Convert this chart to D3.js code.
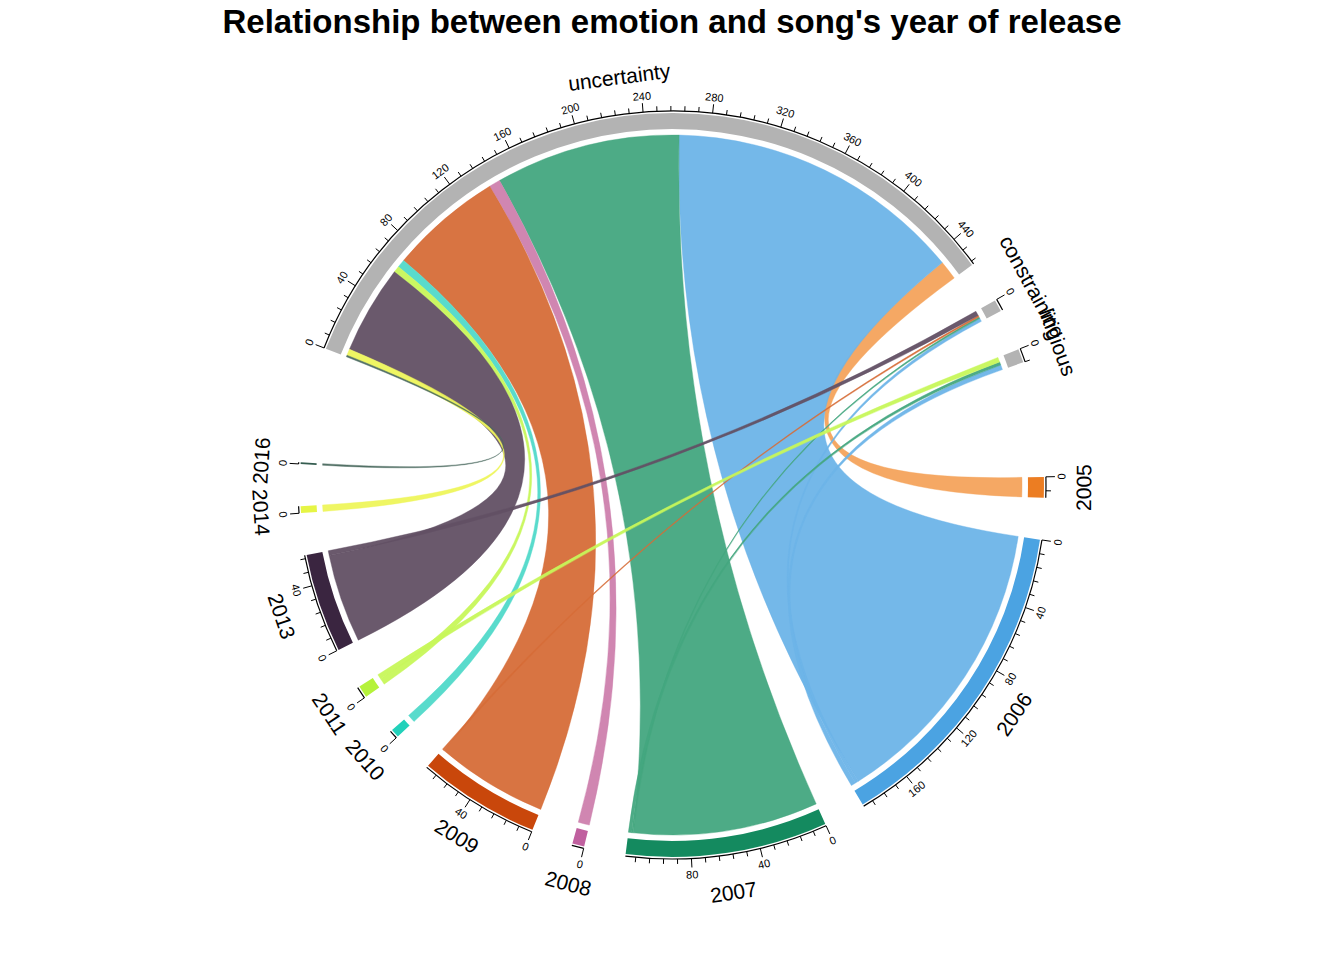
<!doctype html>
<html lang="en">
<head>
<meta charset="utf-8">
<script src="https://d3js.org/d3.v7.min.js"></script>
<style>
  body { margin: 0; background: #fff; }
  text { font-family: "Liberation Sans", Arial, sans-serif; }
</style>
</head>
<body>
<svg id="plot" width="1344" height="960"></svg>
<script>
// sectors, clockwise from "uncertainty"
var emotions = ["uncertainty", "constraining", "litigious"];
var years = ["2005", "2006", "2007", "2008", "2009", "2010", "2011", "2013", "2014", "2016"];
// link values: rows = emotions, columns = years
var uncertaintyLinks  = [12, 185, 115, 7, 70, 5, 4, 55, 4, 1];
var constrainingLinks = [0, 2, 1, 0, 1, 0, 0, 3, 0, 0];
var litigiousLinks    = [0, 3, 2, 0, 0, 0, 3, 0, 0, 0];
var yearColors  = ["#ec7d22", "#4ba3e2", "#148a5f", "#c0609f", "#c9470b", "#22d1ba", "#b5f23b", "#3a2540", "#e6f545", "#345c4f"];
var chordColors = ["#f4a35c", "#6db4e8", "#43a67f", "#cd80ad", "#d66d38", "#50d9c9", "#c7f75a", "#625064", "#eef55b", "#4c6b60"];
var emotionColor = "#b3b3b3";

var links = [uncertaintyLinks, constrainingLinks, litigiousLinks];

var svg = d3.select("#plot");
var cx = 672, cy = 485;
var rChord = 350, rIn = 356, rOut = 372;
var gap = 6.5, bigGap = 18, startDeg = -68.5;

svg.append("text").attr("x", 672).attr("y", 33).attr("text-anchor", "middle")
  .style("font-size", "33px").style("font-weight", "bold").text("Relationship between emotion and song's year of release");

var g = svg.append("g").attr("transform", "translate(" + cx + "," + cy + ")");

// build sectors
var sectors = [];
emotions.forEach(function(e, i) { sectors.push({name: e, total: d3.sum(links[i]), color: emotionColor, type: "e", idx: i}); });
years.forEach(function(y, j) { sectors.push({name: y, total: d3.sum(links, function(r) { return r[j]; }), color: yearColors[j], type: "y", idx: j}); });
var grand = d3.sum(sectors, function(s) { return s.total; });
var k = (360 - gap * (sectors.length - 2) - 2 * bigGap) / grand;

var a = startDeg;
sectors.forEach(function(s, i) {
  s.start = a;
  s.end = a + s.total * k;
  s.cur = s.start;
  a = s.end + (i == emotions.length - 1 || i == sectors.length - 1 ? bigGap : gap);
});
var rad = function(d) { return d * Math.PI / 180; };

// link positions: emotion sectors ordered by year descending, years by emotion order
var chords = [];
var linkEnds = {};
emotions.forEach(function(e, i) {
  var s = sectors[i];
  for (var j = years.length - 1; j >= 0; j--) {
    var v = links[i][j];
    if (!v) continue;
    linkEnds[i + "-" + j] = {source: {startAngle: rad(s.cur), endAngle: rad(s.cur + v * k)}};
    s.cur += v * k;
  }
});
years.forEach(function(y, j) {
  var s = sectors[emotions.length + j];
  emotions.forEach(function(e, i) {
    var v = links[i][j];
    if (!v) return;
    var l = linkEnds[i + "-" + j];
    l.target = {startAngle: rad(s.cur), endAngle: rad(s.cur + v * k)};
    l.j = j;
    s.cur += v * k;
    chords.push(l);
  });
});

var ribbon = d3.ribbon().radius(rChord);
g.selectAll("path.chord").data(chords).enter().append("path")
  .attr("d", ribbon)
  .attr("fill", function(d) { return chordColors[d.j]; })
  .attr("fill-opacity", 0.95)
  .attr("stroke", function(d) { return chordColors[d.j]; })
  .attr("stroke-width", 0.4);

var arc = d3.arc().innerRadius(rIn).outerRadius(rOut);
g.selectAll("path.sector").data(sectors).enter().append("path")
  .attr("d", function(s) { return arc({startAngle: rad(s.start), endAngle: rad(s.end)}); })
  .attr("fill", function(s) { return s.color; });

function pos(deg, r) { return [r * Math.sin(rad(deg)), -r * Math.cos(rad(deg))]; }
function facing(deg) {
  var n = ((deg % 360) + 360) % 360;
  var flip = n > 90 && n < 270;
  return {rot: flip ? deg + 180 : deg, flip: flip};
}

var rAxis = 374;
sectors.forEach(function(s) {
  var axis = g.append("g");
  axis.append("path")
    .attr("d", d3.arc().innerRadius(rAxis).outerRadius(rAxis)({startAngle: rad(s.start), endAngle: rad(s.end)}))
    .attr("stroke", "black").attr("stroke-width", 1.2).attr("fill", "none");
  for (var v = 0; v <= s.total; v += 8) {
    var major = v % 40 == 0;
    var deg = s.start + v * k;
    var p1 = pos(deg, rAxis), p2 = pos(deg, rAxis + (major ? 9 : 5));
    axis.append("line").attr("x1", p1[0]).attr("y1", p1[1]).attr("x2", p2[0]).attr("y2", p2[1])
      .attr("stroke", "black").attr("stroke-width", 1);
    if (major) {
      var f = facing(deg), p = pos(deg, rAxis + 12);
      axis.append("text").attr("transform", "translate(" + p[0] + "," + p[1] + ") rotate(" + f.rot + ")")
        .attr("text-anchor", "middle").attr("dominant-baseline", f.flip ? "hanging" : "alphabetic")
        .style("font-size", "11px").text(v);
    }
  }
  var mid = (s.start + s.end) / 2, fm = facing(mid), pm = pos(mid, rAxis + 30);
  g.append("text").attr("transform", "translate(" + pm[0] + "," + pm[1] + ") rotate(" + fm.rot + ")")
    .attr("text-anchor", "middle").attr("dominant-baseline", fm.flip ? "hanging" : "alphabetic")
    .style("font-size", "21px").text(s.name);
});
</script>
</body>
</html>
